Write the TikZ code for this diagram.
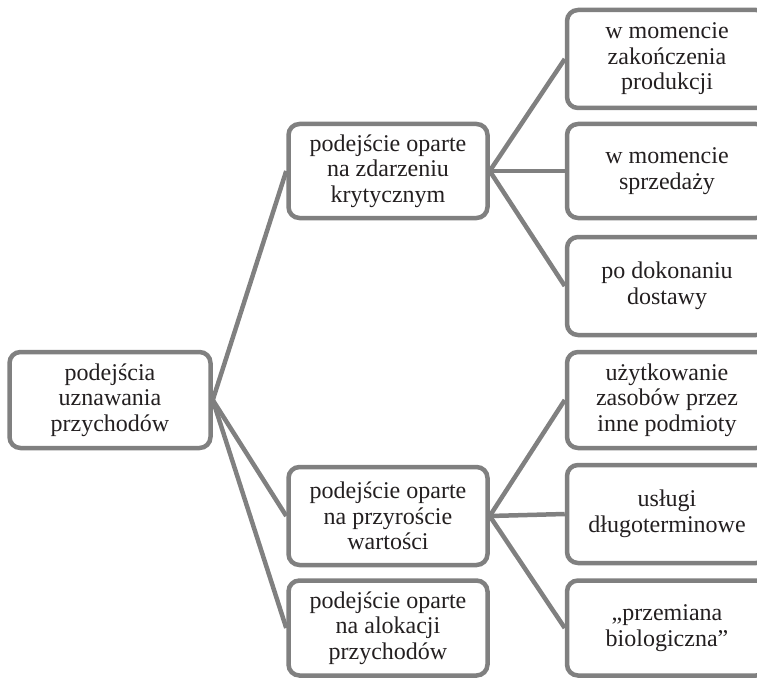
\documentclass[tikz,border=0pt]{standalone}
\usepackage{fontspec}
\setmainfont{Liberation Serif}
\definecolor{boxgray}{RGB}{128,128,128}
\definecolor{txt}{RGB}{35,31,32}
\begin{document}
\begin{tikzpicture}[x=1pt,y=-1pt,
  box/.style={draw=boxgray, line width=4.5pt, rounded corners=11pt, fill=white,
    align=center, text=txt, inner sep=0pt,
    font=\fontsize{24}{25.5}\selectfont},
  link/.style={draw=boxgray, line width=4.5pt}]
\useasboundingbox (0,0) rectangle (757,679);
% connectors first (behind boxes)
\coordinate (rootc) at (110,400);
\node[box, minimum width=201, minimum height=96] (root) at (110,400) {podejścia\\uznawania\\przychodów};
\node[box, minimum width=199, minimum height=94] (m1) at (388,171) {podejście oparte\\na zdarzeniu\\krytycznym};
\node[box, minimum width=199, minimum height=98] (m2) at (388,516) {podejście oparte\\na przyroście\\wartości};
\node[box, minimum width=199, minimum height=95] (m3) at (388,628) {podejście oparte\\na alokacji\\przychodów};
\node[box, minimum width=200, minimum height=98] (r1) at (667,59) {w momencie\\zakończenia\\produkcji};
\node[box, minimum width=200, minimum height=94] (r2) at (667,171) {w momencie\\sprzedaży};
\node[box, minimum width=200, minimum height=98] (r3) at (667,286) {po dokonaniu\\dostawy};
\node[box, minimum width=200, minimum height=96] (r4) at (667,400) {użytkowanie\\zasobów przez\\inne podmioty};
\node[box, minimum width=200, minimum height=98] (r5) at (667,514) {usługi\\długoterminowe};
\node[box, minimum width=200, minimum height=95] (r6) at (667,628) {„przemiana\\biologiczna”};
\draw[link] (root.east) -- (m1.west);
\draw[link] (root.east) -- (m2.west);
\draw[link] (root.east) -- (m3.west);
\draw[link] (m1.east) -- (r1.west);
\draw[link] (m1.east) -- (r2.west);
\draw[link] (m1.east) -- (r3.west);
\draw[link] (m2.east) -- (r4.west);
\draw[link] (m2.east) -- (r5.west);
\draw[link] (m2.east) -- (r6.west);
\end{tikzpicture}
\end{document}
